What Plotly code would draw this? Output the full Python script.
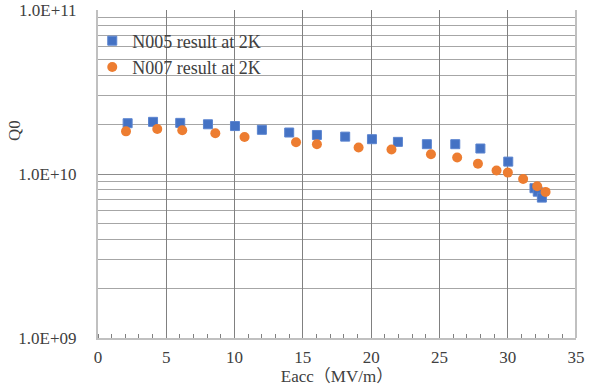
import plotly.graph_objects as go

# N005 result at 2K
n005_eacc = [2.17, 4.03, 6.02, 8.05, 10.03, 12.0, 14.0, 16.03, 18.1, 20.06, 21.96, 24.08, 26.16, 28.0, 30.04, 31.96, 32.2, 32.5]
n005_q0 = [2.04e10, 2.08e10, 2.05e10, 2.01e10, 1.96e10, 1.86e10, 1.79e10, 1.73e10, 1.69e10, 1.63e10, 1.57e10, 1.52e10, 1.52e10, 1.43e10, 1.19e10, 0.819e10, 0.78e10, 0.718e10]

# N007 result at 2K
n007_eacc = [2.05, 4.34, 6.17, 8.59, 10.73, 14.5, 16.03, 19.08, 21.49, 24.38, 26.3, 27.82, 29.18, 30.01, 31.13, 32.16, 32.77]
n007_q0 = [1.82e10, 1.88e10, 1.85e10, 1.77e10, 1.68e10, 1.56e10, 1.52e10, 1.45e10, 1.41e10, 1.32e10, 1.26e10, 1.155e10, 1.05e10, 1.02e10, 0.933e10, 0.842e10, 0.778e10]

x_ticks = [0, 5, 10, 15, 20, 25, 30, 35]
y_tickvals = [1e9, 1e10, 1e11]
y_ticktext = ["1.0E+09", "1.0E+10", "1.0E+11"]

FONT = "Liberation Serif, Times New Roman, Noto Sans CJK JP, serif"

fig = go.Figure()
fig.add_trace(go.Scatter(
    x=n005_eacc, y=n005_q0, mode="markers", name="N005 result at 2K",
    marker=dict(symbol="square", size=9, color="#4472C4",
                line=dict(width=1, color="#5B84CF")),
))
fig.add_trace(go.Scatter(
    x=n007_eacc, y=n007_q0, mode="markers", name="N007 result at 2K",
    marker=dict(symbol="circle", size=10, color="#ED7D31",
                line=dict(width=0)),
))

fig.update_layout(
    width=600, height=390,
    margin=dict(l=98, r=24, t=9.5, b=51.5, pad=0),
    paper_bgcolor="white", plot_bgcolor="white",
    font=dict(family=FONT, size=17, color="#404040"),
    showlegend=True,
    legend=dict(x=-0.012, y=0.962, xanchor="left", yanchor="top",
                bgcolor="rgba(0,0,0,0)", font=dict(size=18, color="#404040"),
                tracegroupgap=0, itemsizing="trace"),
)

fig.update_xaxes(
    range=[0, 35], tickvals=x_ticks, ticktext=[str(v) for v in x_ticks],
    showgrid=True, gridcolor="#808080", gridwidth=1,
    showline=True, linecolor="#C0C0C0", linewidth=2, mirror=False,
    zeroline=False, ticks="", ticklabelstandoff=3, automargin=False,
    minor=dict(dtick=1, ticks="inside", ticklen=4, tickcolor="#808080", showgrid=False),
    title=dict(text="Eacc（MV/m）", standoff=4, font=dict(size=17, color="#404040")),
    tickfont=dict(size=17, color="#404040"),
)

fig.update_yaxes(
    type="log", range=[9, 11], tickvals=y_tickvals, ticktext=y_ticktext,
    showgrid=True, gridcolor="#8C8C8C", gridwidth=1,
    showline=True, linecolor="#C0C0C0", linewidth=2,
    zeroline=False, ticks="outside", ticklen=10, tickcolor="rgba(0,0,0,0)",
    ticklabelstandoff=6, automargin=False,
    minor=dict(dtick="D1", showgrid=True, gridcolor="#A6A6A6", gridwidth=1, ticks=""),
    tickfont=dict(size=17, color="#404040"),
)

# y-axis title "Q0"
fig.add_annotation(text="Q0", xref="paper", yref="paper", x=-0.1757, y=0.631,
                   xanchor="center", yanchor="middle", textangle=-90, showarrow=False,
                   font=dict(size=17, color="#404040"))

# right border
fig.add_shape(type="line", xref="paper", yref="paper", x0=1, x1=1, y0=0, y1=1,
              line=dict(color="#C0C0C0", width=2))

fig.write_html("out.html", config={"displayModeBar": False},
               post_script="document.body.style.margin='0';")
